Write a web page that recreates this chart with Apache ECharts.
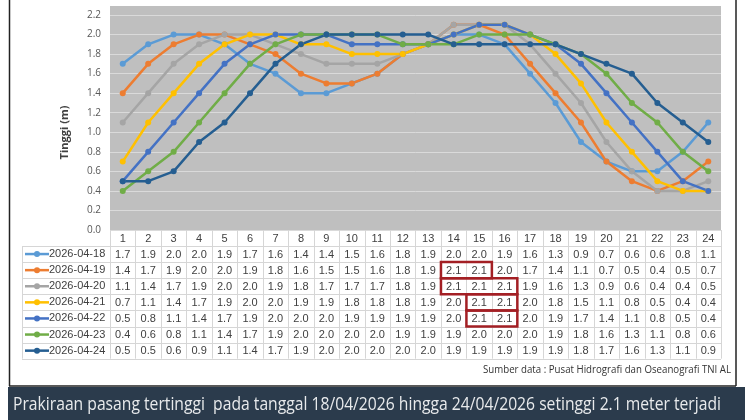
<!DOCTYPE html>
<html>
<head>
<meta charset="utf-8">
<script src="https://cdn.jsdelivr.net/npm/echarts@6/dist/echarts.min.js"></script>
<style>
html,body{margin:0;padding:0;background:#fff;}
#c{width:750px;height:420px;}
</style>
</head>
<body>
<div id="c"></div>
<script>
const categories = ['1','2','3','4','5','6','7','8','9','10','11','12','13','14','15','16','17','18','19','20','21','22','23','24'];
const dates = ['2026-04-18','2026-04-19','2026-04-20','2026-04-21','2026-04-22','2026-04-23','2026-04-24'];
const d0418 = [1.7,1.9,2.0,2.0,1.9,1.7,1.6,1.4,1.4,1.5,1.6,1.8,1.9,2.0,2.0,1.9,1.6,1.3,0.9,0.7,0.6,0.6,0.8,1.1];
const d0419 = [1.4,1.7,1.9,2.0,2.0,1.9,1.8,1.6,1.5,1.5,1.6,1.8,1.9,2.1,2.1,2.0,1.7,1.4,1.1,0.7,0.5,0.4,0.5,0.7];
const d0420 = [1.1,1.4,1.7,1.9,2.0,2.0,1.9,1.8,1.7,1.7,1.7,1.8,1.9,2.1,2.1,2.1,1.9,1.6,1.3,0.9,0.6,0.4,0.4,0.5];
const d0421 = [0.7,1.1,1.4,1.7,1.9,2.0,2.0,1.9,1.9,1.8,1.8,1.8,1.9,2.0,2.1,2.1,2.0,1.8,1.5,1.1,0.8,0.5,0.4,0.4];
const d0422 = [0.5,0.8,1.1,1.4,1.7,1.9,2.0,2.0,2.0,1.9,1.9,1.9,1.9,2.0,2.1,2.1,2.0,1.9,1.7,1.4,1.1,0.8,0.5,0.4];
const d0423 = [0.4,0.6,0.8,1.1,1.4,1.7,1.9,2.0,2.0,2.0,2.0,1.9,1.9,1.9,2.0,2.0,2.0,1.9,1.8,1.6,1.3,1.1,0.8,0.6];
const d0424 = [0.5,0.5,0.6,0.9,1.1,1.4,1.7,1.9,2.0,2.0,2.0,2.0,2.0,1.9,1.9,1.9,1.9,1.9,1.8,1.7,1.6,1.3,1.1,0.9];
const yMin = 0, yMax = 2.2, yStep = 0.2;
// highlighted cells in the data table: [row, firstCol, lastCol]
const highlights = [[1,13,14],[2,13,15],[3,14,15],[4,14,15]];
const yName = 'Tinggi (m)';
const sourceText = 'Sumber data : Pusat Hidrografi dan Oseanografi TNI AL';
const bannerText = 'Prakiraan pasang tertinggi  pada tanggal 18/04/2026 hingga 24/04/2026 setinggi 2.1 meter terjadi';

const seriesData = [d0418,d0419,d0420,d0421,d0422,d0423,d0424];
const colors = ['#5B9BD5','#ED7D31','#A5A5A5','#FFC000','#4472C4','#70AD47','#255E91'];

const chart = echarts.init(document.getElementById('c'), null, {renderer:'canvas'});
const GRID = {left:110, right:29, top:15, bottom:190};
const option = {
  animation:false,
  backgroundColor:'#ffffff',
  grid:{left:GRID.left,right:GRID.right,top:GRID.top,bottom:GRID.bottom,show:true,backgroundColor:'#bfbfbf',borderWidth:0},
  xAxis:{type:'category',data:categories,boundaryGap:true,
    axisLine:{show:false},axisTick:{show:false},
    axisLabel:{fontFamily:'Liberation Sans, Arial, sans-serif',fontSize:11,color:'#404040',margin:3,interval:0},
    splitLine:{show:false}},
  yAxis:{type:'value',min:yMin,max:yMax,interval:yStep,
    axisLine:{show:false},axisTick:{show:false},
    axisLabel:{formatter:v=>v.toFixed(1),fontFamily:'Open Sans, sans-serif',fontSize:10,color:'#595959',margin:9},
    splitLine:{lineStyle:{color:'#dadada',width:1}}},
  series: seriesData.map((d,i)=>({
    name:dates[i],type:'line',data:d,symbol:'circle',symbolSize:6,
    itemStyle:{color:colors[i]},lineStyle:{color:colors[i],width:2.5}
  }))
};
chart.setOption(option);

function measure(text, font){
  const cv = document.createElement('canvas').getContext('2d');
  cv.font = font;
  return cv.measureText(text).width;
}

function buildGraphics(){
  const g = [];
  const band = chart.convertToPixel({xAxisIndex:0}, 1) - chart.convertToPixel({xAxisIndex:0}, 0);
  const x0 = chart.convertToPixel({xAxisIndex:0}, 0) - band/2;
  const xEnd = x0 + band*categories.length;
  const plotBottom = chart.convertToPixel({yAxisIndex:0}, yMin);
  const plotTop = chart.convertToPixel({yAxisIndex:0}, yMax);
  // gray extension above top tick
  g.push({type:'rect',shape:{x:x0,y:plotTop-9,width:xEnd-x0,height:9},style:{fill:'#bfbfbf'},silent:true});
  // table
  const headerH = 16, rowH = 16.1, tableLeft = 22;
  const rowsTop = plotBottom + headerH;
  const lineStyle = {stroke:'#d6d6d6',lineWidth:1};
  const nRows = dates.length;
  const tableBottom = rowsTop + rowH*nRows;
  for(let r=0;r<=nRows;r++){
    const y = Math.round(rowsTop + r*rowH)+0.5;
    g.push({type:'line',shape:{x1:tableLeft,y1:y,x2:xEnd,y2:y},style:lineStyle,silent:true});
  }
  for(let c=0;c<=categories.length;c++){
    const x = Math.round(x0 + c*band)+0.5;
    g.push({type:'line',shape:{x1:x,y1:plotBottom,x2:x,y2:tableBottom},style:lineStyle,silent:true});
  }
  g.push({type:'line',shape:{x1:tableLeft+0.5,y1:rowsTop,x2:tableLeft+0.5,y2:tableBottom},style:lineStyle,silent:true});
  for(let r=0;r<nRows;r++){
    const cy = rowsTop + r*rowH + rowH/2;
    g.push({type:'line',shape:{x1:25,y1:cy,x2:49,y2:cy},style:{stroke:colors[r],lineWidth:2.5},silent:true});
    g.push({type:'circle',shape:{cx:37,cy:cy,r:3},style:{fill:colors[r]},silent:true});
    g.push({type:'text',x:49,y:cy,style:{text:dates[r],fontFamily:'Liberation Sans, Arial, sans-serif',fontSize:11,fill:'#404040',verticalAlign:'middle',align:'left'},silent:true});
    seriesData[r].forEach((v,c)=>{
      const cx = chart.convertToPixel({xAxisIndex:0}, c);
      g.push({type:'text',x:cx,y:cy+0.5,style:{text:v.toFixed(1),fontFamily:'Liberation Sans, Arial, sans-serif',fontSize:11,fill:'#404040',align:'center',verticalAlign:'middle'},silent:true});
    });
  }
  highlights.forEach(([r,c1,c2])=>{
    const x1 = x0 + c1*band, x2 = x0 + (c2+1)*band;
    const y1 = rowsTop + r*rowH, y2 = y1 + rowH;
    g.push({type:'rect',z:10,shape:{x:x1,y:y1,width:x2-x1,height:y2-y1},style:{fill:null,stroke:'#A31F24',lineWidth:2.5},silent:true});
  });
  // y axis title
  g.push({type:'text',x:65,y:(plotTop+plotBottom)/2+10,rotation:Math.PI/2,style:{text:yName,fontFamily:'Open Sans, sans-serif',fontWeight:'bold',fontSize:11,fill:'#404040',align:'center',verticalAlign:'middle'},silent:true});
  // source
  const srcFont = '10px "Open Sans", sans-serif';
  const srcScale = 248 / measure(sourceText, srcFont);
  g.push({type:'text',x:731,y:370,scaleX:srcScale,originX:0,originY:0,style:{text:sourceText,fontFamily:'Open Sans, sans-serif',fontSize:10,fill:'#333333',align:'right',verticalAlign:'middle'},silent:true});
  // frame
  const frameStyle = {stroke:'#222',lineWidth:1.5};
  g.push({type:'line',shape:{x1:9.5,y1:0,x2:9.5,y2:386},style:frameStyle,silent:true});
  g.push({type:'line',shape:{x1:736,y1:0,x2:736,y2:386},style:frameStyle,silent:true});
  g.push({type:'line',shape:{x1:9,y1:386,x2:736,y2:386},style:frameStyle,silent:true});
  // banner
  g.push({type:'rect',shape:{x:8,y:387,width:737,height:33},style:{fill:'#2b3b4c'},silent:true});
  const banFont = '18px "Open Sans", sans-serif';
  const banScale = 708 / measure(bannerText, banFont);
  g.push({type:'text',x:13,y:405,scaleX:banScale,originX:0,originY:0,style:{text:bannerText,fontFamily:'Open Sans, sans-serif',fontSize:18,fill:'#e8eaec',align:'left',verticalAlign:'middle'},silent:true});
  chart.setOption({graphic:{elements:g}});
}
if (document.fonts && document.fonts.load) {
  Promise.all([document.fonts.load('18px "Open Sans"'), document.fonts.load('10px "Open Sans"')]).then(buildGraphics, buildGraphics);
} else {
  buildGraphics();
}
</script>
</body>
</html>
